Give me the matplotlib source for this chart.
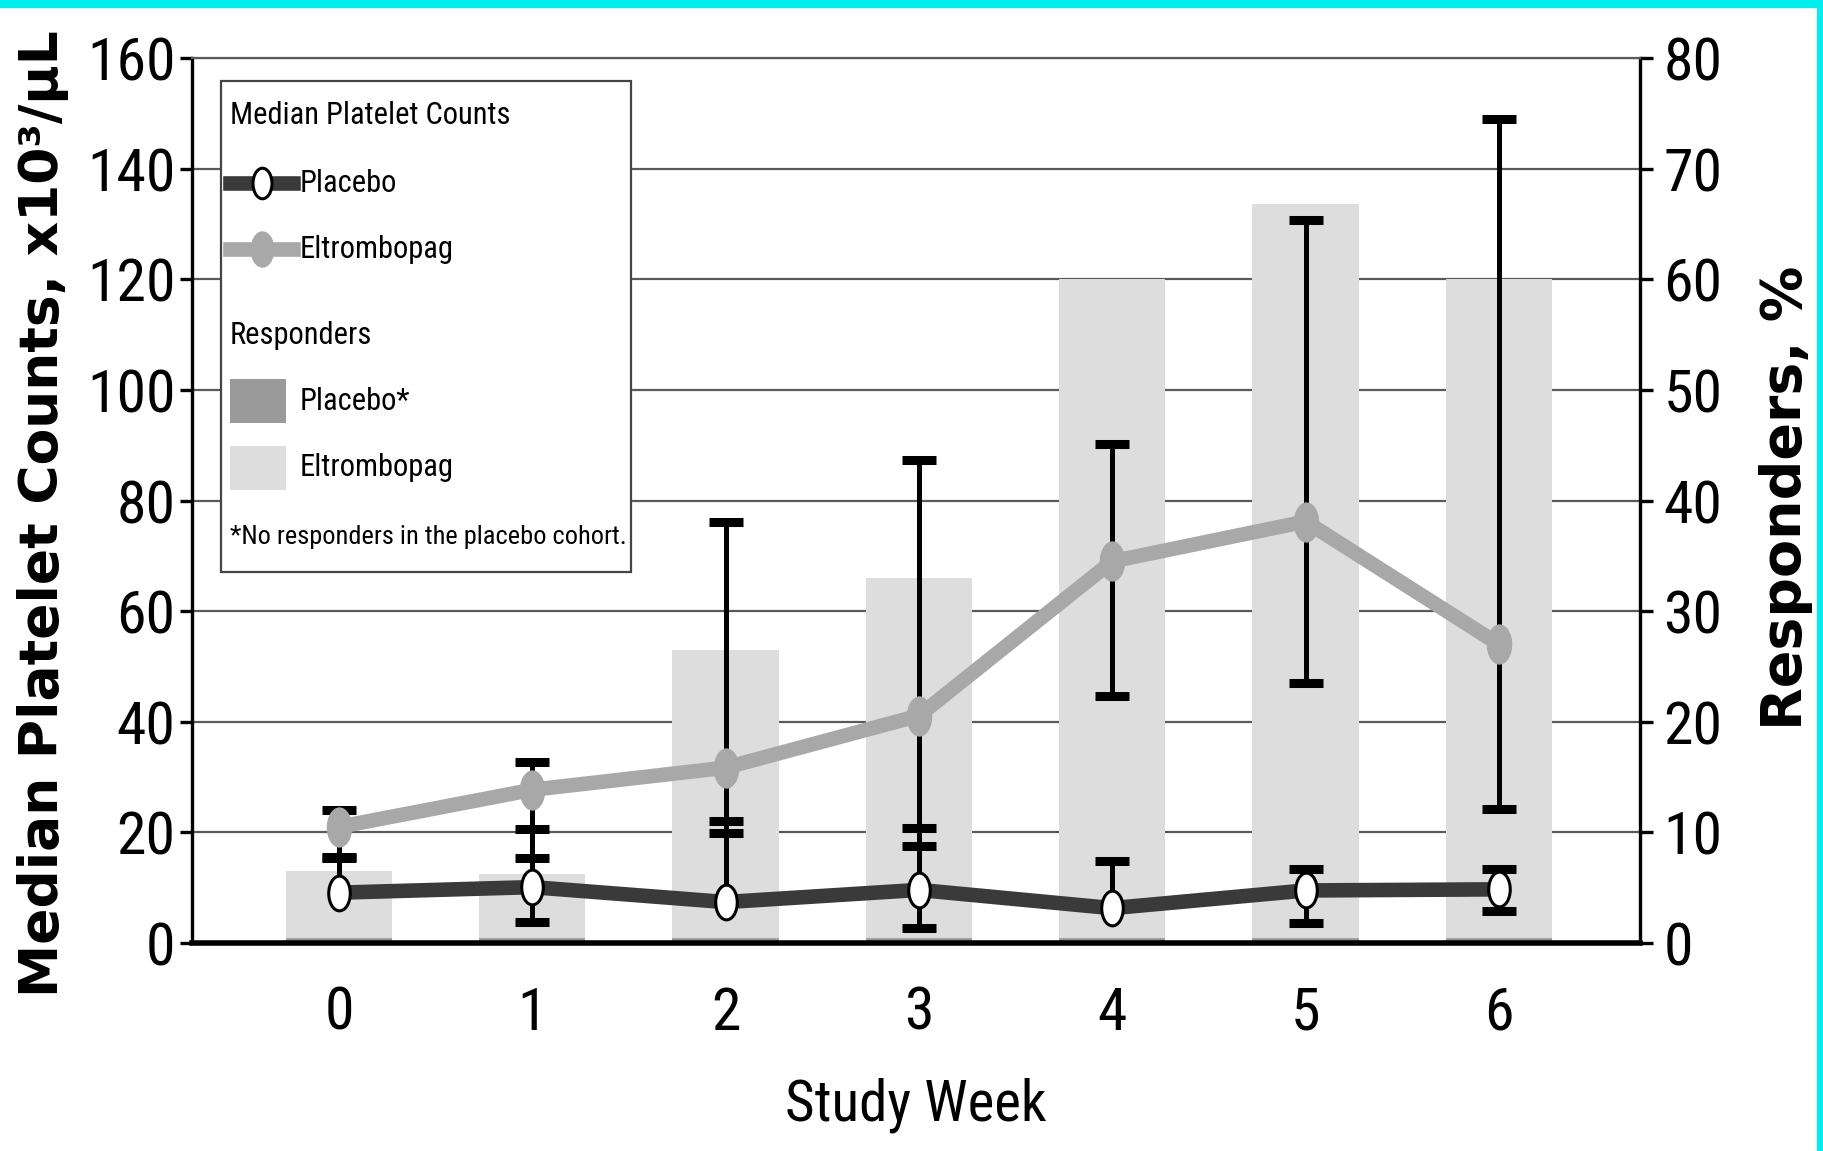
import numpy as np
import matplotlib
matplotlib.use('Agg')
import matplotlib.pyplot as plt
from matplotlib import font_manager
from matplotlib.path import Path
from matplotlib.patches import Rectangle
from matplotlib.lines import Line2D

# condensed face for ticks / legend, bold wide face for the axis titles
fonts = font_manager.fontManager.ttflist
names = {f.name for f in fonts}
NARROW, STRETCH = 'Liberation Sans', 'normal'
for cand in ['Liberation Sans Narrow', 'Roboto Condensed', 'Open Sans Condensed',
             'DejaVu Sans Condensed', 'Noto Sans Condensed', 'Arial Narrow']:
    if cand in names:
        NARROW = cand
        break
else:
    if any(f.name == 'DejaVu Sans' and f.stretch == 'condensed' for f in fonts):
        NARROW, STRETCH = 'DejaVu Sans', 'condensed'
    elif 'Roboto' in names:
        NARROW = 'Roboto'

# ---- data -------------------------------------------------------------
weeks = np.arange(7)

# median platelet counts, x10^3/uL (left axis)
elt_median = np.array([21.0, 27.7, 31.7, 41.1, 69.0, 76.2, 54.0])
elt_low    = np.array([15.5, 15.4, 19.9, 17.5, 44.7, 47.0, 24.2])
elt_high   = np.array([24.0, 32.7, 76.2, 87.3, 90.3, 130.7, 149.0])

pbo_median = np.array([9.1, 10.1, 7.4, 9.6, 6.3, 9.5, 9.7])
pbo_low    = np.array([np.nan, 3.8, np.nan, 2.7, np.nan, 3.6, 5.7])
pbo_high   = np.array([15.3, 20.7, 22.0, 20.8, 14.8, 13.4, 13.4])

# responders, % (right axis)
elt_resp = np.array([6.5, 6.2, 26.5, 33.0, 60.0, 66.8, 60.0])
pbo_resp = np.array([0, 0, 0, 0, 0, 0, 0])

# ---- styles -------------------------------------------------------------
ELT_GRAY = '#a8a8a8'
PBO_DARK = '#3a3a3a'
BAR_LIGHT = '#dddddd'
BAR_DARK = '#9a9a9a'
GRID = '#5a5a5a'
LINE_W = 10.5

circ = Path.unit_circle()
oval = Path(circ.vertices * np.array([0.62, 1.0]), circ.codes)

W, H = 1824, 1151
fig = plt.figure(figsize=(W / 100, H / 100), dpi=100)
fig.patch.set_facecolor('white')

def px(x, y):
    return x / W, 1 - y / H

ax_left, ax_top, ax_right, ax_bot = 192, 58, 1640, 943
ax = fig.add_axes([ax_left / W, 1 - ax_bot / H, (ax_right - ax_left) / W, (ax_bot - ax_top) / H])
axr = ax.twinx()
ax.set_zorder(axr.get_zorder() + 1)
ax.patch.set_visible(False)

# bars + grid on the responders axis
axr.set_axisbelow(True)
axr.grid(axis='y', color=GRID, lw=1.6)
axr.bar(weeks, elt_resp, width=0.55, color=BAR_LIGHT, zorder=2)
axr.bar(weeks, pbo_resp, width=0.55, color=BAR_DARK, edgecolor=BAR_DARK, lw=7, zorder=2)
axr.set_ylim(0, 80)
axr.set_yticks(np.arange(0, 81, 10))
for s in axr.spines.values():
    s.set_visible(False)

# error whiskers, drawn half by half so missing ends are skipped
def whiskers(x, mid, low, high):
    for end in (low, high):
        ok = np.isfinite(end)
        ax.vlines(x[ok], np.minimum(mid[ok], end[ok]), np.maximum(mid[ok], end[ok]),
                  colors='black', lw=3.6, zorder=3)
        ax.plot(x[ok], end[ok], ls='none', marker='_', ms=24, mew=6.5,
                color='black', zorder=3)

whiskers(weeks, elt_median, elt_low, elt_high)
whiskers(weeks, pbo_median, pbo_low, pbo_high)

ax.plot(weeks, elt_median, color=ELT_GRAY, lw=LINE_W, marker=oval, ms=28,
        mfc=ELT_GRAY, mec=ELT_GRAY, zorder=4)
ax.plot(weeks, pbo_median, color=PBO_DARK, lw=LINE_W, marker=oval, ms=25,
        mfc='white', mec='black', mew=2.2, zorder=4)

ax.set_xlim(-0.76, 6.73)
ax.set_ylim(0, 160)
ax.set_yticks(np.arange(0, 161, 20))
ax.set_xticks(weeks)

ax.spines['top'].set_color(GRID)
ax.spines['top'].set_linewidth(1.6)
ax.spines['left'].set_linewidth(2.4)
ax.spines['right'].set_linewidth(2.4)
ax.spines['bottom'].set_linewidth(4)

ax.tick_params(axis='y', length=9, width=2.4, pad=3)
ax.tick_params(axis='x', length=0, pad=30)
axr.tick_params(axis='y', length=9, width=2.4, pad=8)
for lab in ax.get_xticklabels() + ax.get_yticklabels() + axr.get_yticklabels():
    lab.set_fontfamily(NARROW)
    lab.set_fontstretch(STRETCH)
    lab.set_fontsize(43)

ax.set_xlabel('Study Week', fontfamily=NARROW, fontstretch=STRETCH, fontsize=41, labelpad=26)

fig.text(*px(43, 997), 'Median Platelet Counts, x10³/µL', rotation=90,
         ha='center', va='bottom', fontsize=38.5, fontweight='bold')
fig.text(*px(1786, 498), 'Responders, %', rotation=90,
         ha='center', va='center', fontsize=40, fontweight='bold')

# ---- legend box -----------------------------------------------------------
lx0, ly0, lx1, ly1 = 221, 81, 631, 572
fig.add_artist(Rectangle(px(lx0, ly1), (lx1 - lx0) / W, (ly1 - ly0) / H,
                         transform=fig.transFigure, facecolor='white',
                         edgecolor='#444444', lw=1.6, zorder=5))
leg_font = dict(family=NARROW, stretch=STRETCH, size=22, va='center', ha='left', zorder=6)
fig.text(*px(230, 116), 'Median Platelet Counts', **leg_font)

for y, col, face, edge, ms, label in [(183, PBO_DARK, 'white', 'black', 22, 'Placebo'),
                                      (249, ELT_GRAY, ELT_GRAY, ELT_GRAY, 24, 'Eltrombopag')]:
    (xa, ya), (xb, _) = px(230, y), px(293, y)
    fig.add_artist(Line2D([xa, xb], [ya, ya], transform=fig.transFigure,
                          color=col, lw=LINE_W, zorder=6))
    fig.add_artist(Line2D([(xa + xb) / 2], [ya], transform=fig.transFigure,
                          marker=oval, ms=ms, mfc=face, mec=edge, mew=2.2,
                          ls='none', zorder=7))
    fig.text(*px(300, y), label, **leg_font)

fig.text(*px(230, 335), 'Responders', **leg_font)
for y0, y1, col, label in [(379, 423, BAR_DARK, 'Placebo*'),
                           (446, 490, BAR_LIGHT, 'Eltrombopag')]:
    fig.add_artist(Rectangle(px(230, y1), 56 / W, (y1 - y0) / H,
                             transform=fig.transFigure, facecolor=col,
                             edgecolor='none', zorder=6))
    fig.text(*px(300, (y0 + y1) / 2), label, **leg_font)

fig.text(*px(230, 537), '*No responders in the placebo cohort.',
         **{**leg_font, 'size': 19})

# cyan frame on the top and right edges
fig.add_artist(Rectangle((0, 1 - 8 / H), 1, 8 / H, transform=fig.transFigure,
                         facecolor='#00eeee', edgecolor='none', zorder=10))
fig.add_artist(Rectangle((1 - 7 / W, 0), 7 / W, 1, transform=fig.transFigure,
                         facecolor='#00eeee', edgecolor='none', zorder=10))

fig.savefig('out.png', dpi=100)
